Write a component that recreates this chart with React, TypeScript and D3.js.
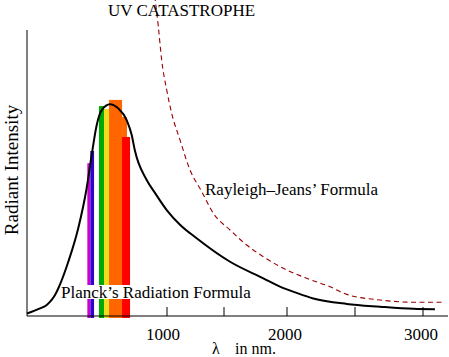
import React from "react";
import * as d3 from "d3";

// Wavelength (nm) and relative intensity
const planckNm = [0, 93, 141, 176, 200, 224, 295, 366, 426, 462, 498, 534, 593, 652, 712, 748, 771, 855, 914, 998, 1114, 1260, 1548, 1812, 1944, 2071, 2193, 2439, 2684, 2929, 3088];
const planckI = [0.012, 0.036, 0.052, 0.076, 0.099, 0.131, 0.256, 0.414, 0.603, 0.76, 0.902, 0.972, 1.0, 0.98, 0.925, 0.854, 0.78, 0.642, 0.581, 0.5, 0.431, 0.367, 0.256, 0.178, 0.139, 0.109, 0.083, 0.057, 0.044, 0.034, 0.032];

const rjNm = [905, 938, 962, 998, 1041, 1114, 1202, 1305, 1406, 1548, 1680, 1812, 1971, 2145, 2316, 2439, 2684, 2929, 3150];
const rjI = [1.55, 1.366, 1.208, 1.067, 0.957, 0.831, 0.689, 0.587, 0.485, 0.406, 0.335, 0.28, 0.225, 0.178, 0.138, 0.102, 0.0755, 0.065, 0.065];

// visible spectrum bands: start nm, end nm, top intensity, colour
const bandStart = [431, 452, 514, 550, 586, 679, 679];
const bandEnd = [450, 479, 550, 586, 679, 714, 736];
const bandTop = [0.721, 0.779, 0.991, 0.977, 1.02, 0.939, 0.845];
const bandColor = ["#cc00cc", "#3300cc", "#00aa00", "#eedd22", "#ff6600", "#ff6600", "#ff0000"];

const tickValues = [1000, 1500, 2000, 2500, 3000];
const tickLabels = ["1000", "", "2000", "", "3000"];

const W = 449;
const H = 357;
const FONT = "'Liberation Serif', 'Times New Roman', serif";

export default function App() {
  const x = d3
    .scaleLinear()
    .domain([0, 1000, 1500, 2000, 2500, 3000])
    .range([27, 167, 224, 287, 355, 423]);
  const y = d3.scaleLinear().domain([0, 1.35]).range([316, 30]);
  const x0 = 27;
  const xEnd = 448;
  const y0 = y(0);

  const planck = d3
    .line<number>()
    .x((_, i) => x(planckNm[i]))
    .y((d) => y(d))
    .curve(d3.curveMonotoneX)(planckI);
  const rj = d3
    .line<number>()
    .x((_, i) => x(rjNm[i]))
    .y((d) => y(d))
    .curve(d3.curveMonotoneX)(rjI);

  return (
    <svg
      width={W}
      height={H}
      style={{ position: "absolute", left: 0, top: 0, background: "#fff" }}
      fontFamily={FONT}
    >
      <rect x={0} y={0} width={W} height={H} fill="#fff" />
      {bandStart.map((s, i) => (
        <rect
          key={i}
          x={x(s)}
          y={y(bandTop[i])}
          width={x(bandEnd[i]) - x(s)}
          height={y0 - y(bandTop[i]) + 2}
          fill={bandColor[i]}
        />
      ))}
      <path d={rj || ""} fill="none" stroke="#990000" strokeWidth={1.1} strokeDasharray="5,3.5" />
      <path d={planck || ""} fill="none" stroke="#000" strokeWidth={2} />
      {/* axes */}
      <line x1={x0} x2={x0} y1={30} y2={y0} stroke="#000" strokeWidth={1} />
      <line x1={x0} x2={xEnd} y1={y0} y2={y0} stroke="#000" strokeWidth={1} />
      {tickValues.map((t, i) => (
        <g key={t}>
          <line x1={x(t)} x2={x(t)} y1={y0} y2={y0 - 9} stroke="#000" strokeWidth={1} />
          {tickLabels[i] && (
            <text x={x(t) - (i === 0 ? 4 : 2)} y={340} textAnchor="middle" fontSize={17}>
              {tickLabels[i]}
            </text>
          )}
        </g>
      ))}
      {/* labels */}
      <text x={108} y={16} fontSize={17}>UV CATASTROPHE</text>
      <rect x={205} y={182} width={178} height={15} fill="#fff" />
      <text x={205} y={195} fontSize={17}>Rayleigh–Jeans’ Formula</text>
      <rect x={61} y={285} width={193} height={14} fill="#fff" />
      <text x={61} y={298} fontSize={17}>Planck’s Radiation Formula</text>
      <text transform="translate(17.5,170) rotate(-90)" textAnchor="middle" fontSize={19}>
        Radiant Intensity
      </text>
      <text x={212} y={353.5} fontSize={16}>λ</text>
      <text x={235} y={353.5} fontSize={16}>in nm.</text>
    </svg>
  );
}
